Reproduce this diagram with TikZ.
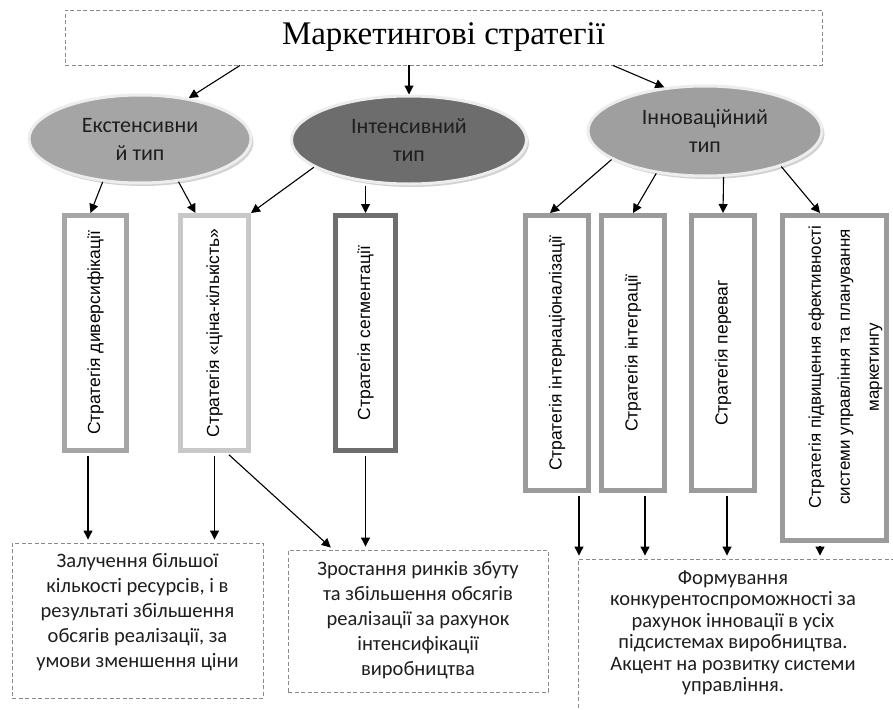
\documentclass[tikz,border=0pt]{standalone}
\usepackage{fontspec}
\setmainfont{Liberation Serif}
\newfontfamily\notefont{Carlito}
\newfontfamily\stratfont{Liberation Sans}
\usetikzlibrary{shapes.geometric,arrows.meta,shadows}

\definecolor{ringA}{HTML}{A6A6A6}
\definecolor{ringB}{HTML}{C8C8C8}
\definecolor{ringC}{HTML}{6E6E6E}
\definecolor{ringD}{HTML}{9B9B9B}
\definecolor{ovalA}{HTML}{A5A5A5}
\definecolor{ovalB}{HTML}{6D6D6D}
\definecolor{ovalC}{HTML}{9F9F9F}
\definecolor{ovalrim}{HTML}{EDEDED}
\definecolor{framegray}{HTML}{8A8A8A}
\definecolor{ink}{HTML}{1E1E1E}

\tikzset{
  arr/.style={line width=1.1pt, draw=black, -{Triangle[length=9pt,width=9pt]}},
  oval/.style={ellipse, draw=ovalrim, line width=3pt, inner sep=0pt, align=center,
    text=ink, font=\notefont\fontsize{22}{28}\selectfont,
    drop shadow={shadow xshift=2.5pt, shadow yshift=-3pt, opacity=0.35}},
  stratbox/.style={rectangle, draw, line width=5pt, fill=white, inner sep=0pt,
    text=black, font=\stratfont\fontsize{17.5}{29}\selectfont},
  dashframe/.style={rectangle, draw=framegray, line width=0.9pt,
    dash pattern=on 4pt off 2.5pt, inner sep=0pt},
  notetext/.style={align=center, text=ink, inner sep=0pt,
    font=\notefont\fontsize{20.5}{25}\selectfont},
}

\begin{document}
\begin{tikzpicture}[x=1pt,y=-1pt]
  \useasboundingbox (0,0) rectangle (893,709);
  \clip (0,0) rectangle (893,709);
  \fill[white] (0,0) rectangle (893,709);

  % title
  \node[dashframe, minimum width=757, minimum height=55,
        font=\fontsize{33}{35}\selectfont] (t) at (443.5,37.5) {Маркетингові стратегії};

  % strategy types
  \node[oval, fill=ovalA, minimum width=222, minimum height=88] (e1) at (140,139) {Екстенсивни\\й тип};
  \node[oval, fill=ovalB, minimum width=235, minimum height=88] (e2) at (409,140) {Інтенсивний\\тип};
  \node[oval, fill=ovalC, minimum width=234, minimum height=90] (e3) at (705,131) {Інноваційний\\тип};

  % strategies (vertical boxes)
  \node[stratbox, draw=ringA, minimum width=62, minimum height=235] (b1) at (95.5,333)
    {\rotatebox{90}{Стратегія диверсифікації}};
  \node[stratbox, draw=ringB, minimum width=68, minimum height=235] (b2) at (214.5,333)
    {\rotatebox{90}{Стратегія «ціна-кількість»}};
  \node[stratbox, draw=ringC, minimum width=60, minimum height=235] (b3) at (365.5,333)
    {\rotatebox{90}{Стратегія сегментації}};
  \node[stratbox, draw=ringD, minimum width=63, minimum height=275] (b4) at (557,353)
    {\rotatebox{90}{Стратегія інтернаціоналізації}};
  \node[stratbox, draw=ringD, minimum width=63, minimum height=275] (b5) at (633,353)
    {\rotatebox{90}{Стратегія інтеграції}};
  \node[stratbox, draw=ringD, minimum width=63, minimum height=275] (b6) at (723,353)
    {\rotatebox{90}{Стратегія переваг}};
  \node[stratbox, draw=ringD, minimum width=104, minimum height=325] (b7) at (834.5,378) {};
  \node[inner sep=0pt, font=\stratfont\fontsize{17}{29}\selectfont] (b7t) at (844,367)
    {\rotatebox{90}{\begin{tabular}{@{}c@{}}Стратегія підвищення ефективності\\системи управління та планування\\маркетингу\end{tabular}}};

  % results
  \node[dashframe, minimum width=251, minimum height=155] (lb) at (137.5,620.5) {};
  \node[notetext] (lbt) at (137.5,612.5)
    {Залучення більшої\\кількості ресурсів, і в\\результаті збільшення\\обсягів реалізації, за\\умови зменшення ціни};
  \node[dashframe, minimum width=260, minimum height=142] (mb) at (418,621) {};
  \node[notetext] (mbt) at (418,620)
    {Зростання ринків збуту\\та збільшення обсягів\\реалізації за рахунок\\інтенсифікації\\виробництва};
  \node[dashframe, minimum width=340, minimum height=170] (rb) at (748,644) {};
  \node[notetext, font=\notefont\fontsize{20.5}{21.5}\selectfont] (rbt) at (733,633)
    {Формування\\конкурентоспроможності за\\рахунок інновації в усіх\\підсистемах виробництва.\\Акцент на розвитку системи\\управління.};

  % title -> types
  \draw[arr] ([xshift=-203.5pt]t.south) -- (e1.40);
  \draw[arr] (t.south -| e2.north) -- (e2.north);
  \draw[arr] ([xshift=169.5pt]t.south) -- (e3.133);

  % types -> strategies
  \draw[arr] (e1.-131) -- ([xshift=-5pt]b1.north);
  \draw[arr] (e1.-48) -- ([xshift=-19pt]b2.north);
  \draw[arr] (e2.-164) -- (b2.north east);
  \draw[arr] (e2.south -| b3.north) -- (b3.north);
  \draw[arr] (e3.-163) -- ([xshift=-7pt]b4.north);
  \draw[arr] (e3.-139) -- (b5.north);
  \draw[arr] (e3.-68) -- (b6.north);
  \draw[arr] (e3.-25) -- ([xshift=-14.5pt]b7.north);

  % strategies -> results
  \coordinate (p1) at ([xshift=-7.5pt]b1.south);
  \coordinate (p2) at (b2.south);
  \coordinate (q2) at ([xshift=12.5pt]b2.south);
  \coordinate (p3) at (b3.south);
  \coordinate (p4) at ([xshift=22pt]b4.south);
  \coordinate (p5) at ([xshift=12pt]b5.south);
  \coordinate (p6) at ([xshift=4pt]b6.south);
  \coordinate (p7) at ([xshift=-14.5pt]b7.south);
  \begin{scope}[shorten <=2.5pt, shorten >=3pt]
    \draw[arr] (p1) -- (p1 |- lb.north);
    \draw[arr] (p2) -- (p2 |- lb.north);
    \draw[arr] (q2) -- ([xshift=-85pt]mb.north);
    \draw[arr] (p3) -- (p3 |- mb.north);
    \draw[arr] (p4) -- (p4 |- rb.north);
    \draw[arr] (p5) -- (p5 |- rb.north);
    \draw[arr] (p6) -- (p6 |- rb.north);
    \draw[arr] (p7) -- (p7 |- rb.north);
  \end{scope}
\end{tikzpicture}
\end{document}
